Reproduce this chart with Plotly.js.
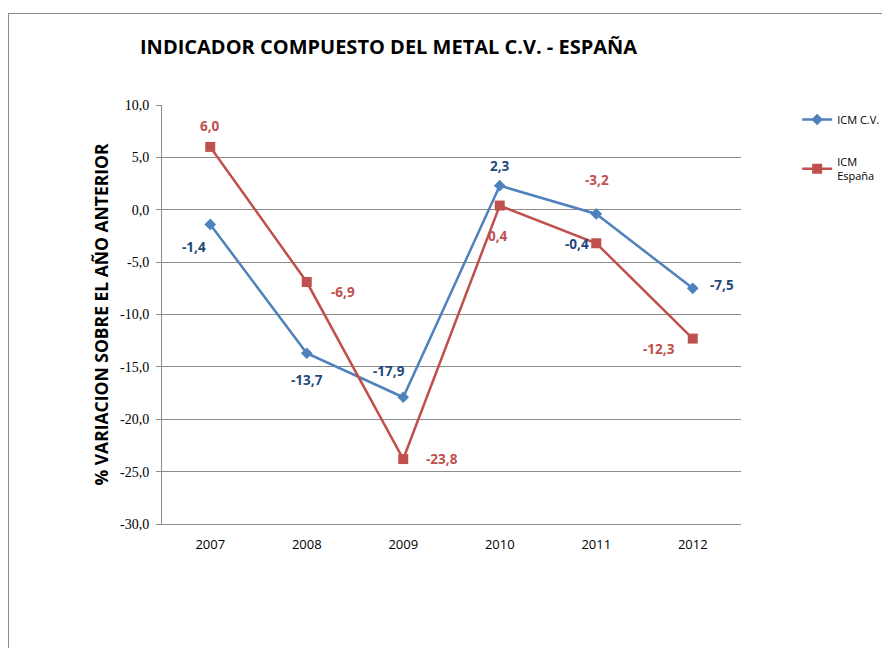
<!DOCTYPE html>
<html>
<head>
<meta charset="utf-8">
<script src="https://cdn.plot.ly/plotly-3.0.1.min.js"></script>
<style>
  html, body { margin: 0; padding: 0; width: 882px; height: 648px; overflow: hidden; background: #fff; }
  #frame { position: absolute; left: 8px; top: 13px; width: 1000px; height: 800px; border: 1px solid #8c8c8c; }
  #chart { position: absolute; left: 0; top: 0; width: 882px; height: 648px; }
</style>
</head>
<body>
<div id="frame"></div>
<div id="chart"></div>
<script>
// Data
const years = ['2007', '2008', '2009', '2010', '2011', '2012'];
const icmCV = [-1.4, -13.7, -17.9, 2.3, -0.4, -7.5];
const icmEsp = [6.0, -6.9, -23.8, 0.4, -3.2, -12.3];
const yTicks = [10, 5, 0, -5, -10, -15, -20, -25, -30];

// Label offsets (px, right / down) to mimic hand-placed Excel data labels
const cvShift = [[-16, 23], [0, 27], [-14, -26], [0, -20], [-19, 30], [29, -3]];
const espShift = [[0, -21], [36, 10], [39, 0], [-2, 30], [1, -63], [-34, 10]];

const BLUE = '#4F81BD';
const RED = '#C0504D';
const NAVY = '#1F497D';
const FONT = 'Open Sans, sans-serif';

// Spanish style numbers with a plain hyphen as minus
const fmt = v => v.toFixed(1).replace('.', ',');

const traces = [
    {
        x: years,
        y: icmCV,
        type: 'scatter',
        mode: 'lines+markers',
        name: 'ICM C.V.',
        legendgroup: 'cv',
        line: { color: BLUE, width: 2.5 },
        marker: { color: BLUE, symbol: 'diamond', size: 9 },
    },
    {
        x: years,
        y: icmEsp,
        type: 'scatter',
        mode: 'lines+markers',
        name: 'ICM<br>España',
        legendgroup: 'esp',
        line: { color: RED, width: 2.5 },
        marker: { color: RED, symbol: 'square', size: 10 },
    },
];

const annotations = [];
years.forEach((yr, i) => {
    annotations.push({
        x: i, y: icmCV[i], xref: 'x', yref: 'y',
        text: '<b>' + fmt(icmCV[i]) + '</b>', showarrow: false,
        xshift: cvShift[i][0], yshift: -cvShift[i][1],
        font: { family: FONT, size: 13.5, color: NAVY },
    });
    annotations.push({
        x: i, y: icmEsp[i], xref: 'x', yref: 'y',
        text: '<b>' + fmt(icmEsp[i]) + '</b>', showarrow: false,
        xshift: espShift[i][0], yshift: -espShift[i][1],
        font: { family: FONT, size: 13.5, color: RED },
    });
});

const layout = {
    width: 882,
    height: 648,
    paper_bgcolor: 'rgba(0,0,0,0)',
    plot_bgcolor: 'rgba(0,0,0,0)',
    margin: { l: 162, r: 141, t: 105, b: 124, autoexpand: false },
    title: {
        text: '<b>INDICADOR COMPUESTO DEL METAL C.V. - ESPAÑA</b>',
        font: { family: FONT, size: 20, color: '#000' },
        x: 140 / 882, xanchor: 'left',
        y: 1 - 47 / 648, yanchor: 'middle',
    },
    showlegend: true,
    legend: {
        x: 1.097, xanchor: 'left',
        y: 1.0, yanchor: 'top',
        font: { family: FONT, size: 11, color: '#000' },
        tracegroupgap: 24,
        bgcolor: 'rgba(0,0,0,0)',
    },
    xaxis: {
        type: 'category',
        range: [-0.5, 5.5],
        showgrid: false,
        showline: true,
        linecolor: '#8c8c8c',
        linewidth: 1,
        ticks: '',
        tickfont: { family: FONT, size: 13, color: '#000' },
        ticklabelstandoff: 8,
    },
    yaxis: {
        range: [-30, 10],
        tickvals: yTicks,
        ticktext: yTicks.map(fmt),
        showgrid: true,
        gridcolor: '#8c8c8c',
        gridwidth: 1,
        zeroline: false,
        showline: true,
        linecolor: '#8c8c8c',
        ticks: 'outside',
        ticklen: 5,
        tickcolor: '#8c8c8c',
        tickfont: { family: 'Liberation Serif, serif', size: 14, color: '#000' },
        ticklabelstandoff: 4,
        title: {
            text: '<b>% VARIACION SOBRE EL AÑO ANTERIOR</b>',
            font: { family: FONT, size: 17.5, color: '#000' },
            standoff: 6,
        },
    },
    annotations: annotations,
};

Plotly.newPlot('chart', traces, layout, { displayModeBar: false, staticPlot: true });
</script>
</body>
</html>
